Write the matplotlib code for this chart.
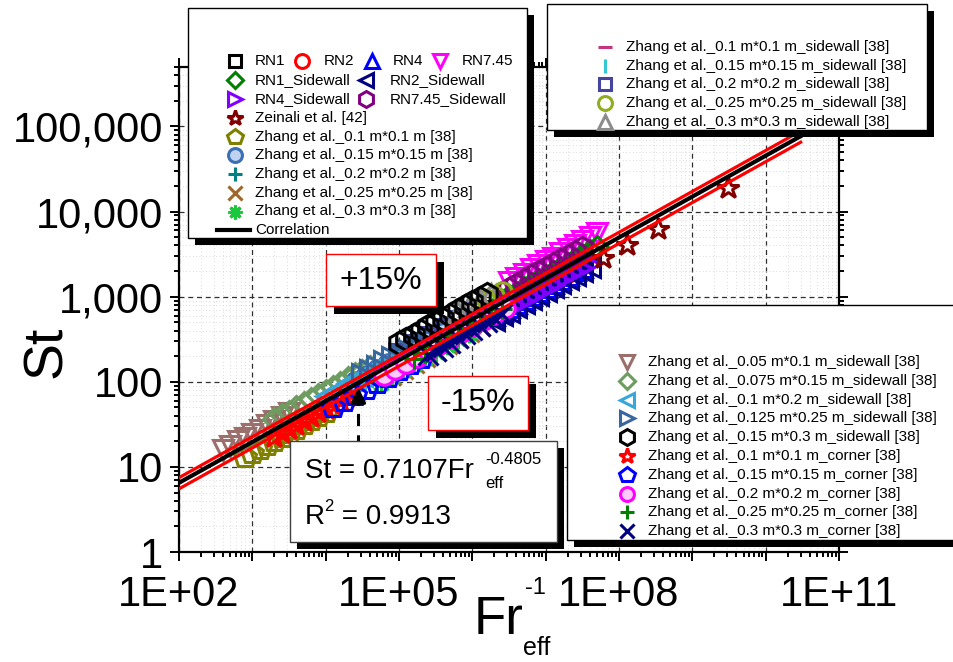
import matplotlib
matplotlib.use("Agg")
import numpy as np
import matplotlib.pyplot as plt
from matplotlib.lines import Line2D
from matplotlib.patches import Rectangle
from matplotlib.ticker import FixedLocator, LogLocator, FuncFormatter, NullFormatter

plt.rcParams["font.family"] = ["Liberation Sans", "DejaVu Sans"]
plt.rcParams["mathtext.fontset"] = "custom"
plt.rcParams["mathtext.rm"] = "Liberation Sans"

W, H = 954, 662

# ---------------------------------------------------------------------------
# data (Fr_eff^-1, St)
# ---------------------------------------------------------------------------
rn1_x = [2.0e6, 2.51e6, 3.16e6, 3.98e6, 5.01e6, 6.31e6, 7.94e6, 1.0e7, 1.26e7, 1.58e7, 2.0e7, 2.51e7, 3.16e7]
rn1_y = [708, 794, 881, 977, 1100, 1230, 1380, 1530, 1700, 1910, 2140, 2400, 2660]
rn2_x = [2.0e6, 2.51e6, 3.16e6, 3.98e6, 5.01e6, 6.31e6, 7.94e6, 1.0e7, 1.26e7, 1.58e7, 2.0e7, 2.51e7, 3.16e7]
rn2_y = [646, 724, 804, 902, 1000, 1120, 1260, 1400, 1550, 1740, 1950, 2190, 2430]
rn4_x = [2.0e6, 2.51e6, 3.16e6, 3.98e6, 5.01e6, 6.31e6, 7.94e6, 1.0e7, 1.26e7, 1.58e7, 2.0e7, 2.51e7, 3.16e7]
rn4_y = [603, 676, 750, 841, 933, 1050, 1160, 1300, 1460, 1620, 1820, 2040, 2260]
rn745_x = [3.16e6, 3.98e6, 5.01e6, 6.31e6, 7.94e6, 1.0e7, 1.26e7, 1.58e7, 2.0e7, 2.51e7, 3.16e7, 3.98e7, 5.01e7]
rn745_y = [1500, 1660, 1860, 2090, 2340, 2600, 2880, 3240, 3630, 4070, 4520, 5010, 5620]
rn1_sw_x = [2.51e6, 3.16e6, 3.98e6, 5.01e6, 6.31e6, 7.94e6, 1.0e7, 1.26e7, 1.58e7, 2.0e7, 2.51e7, 3.16e7, 3.98e7, 5.01e7]
rn1_sw_y = [902, 1010, 1120, 1260, 1410, 1570, 1760, 1970, 2190, 2450, 2750, 3060, 3430, 3800]
rn2_sw_x = [2.0e6, 2.51e6, 3.16e6, 3.98e6, 5.01e6, 6.31e6, 7.94e6, 1.0e7, 1.26e7, 1.58e7, 2.0e7, 2.51e7, 3.16e7, 3.98e7]
rn2_sw_y = [537, 603, 668, 750, 832, 933, 1040, 1160, 1300, 1450, 1620, 1820, 2020, 2260]
rn4_sw_x = [2.51e6, 3.16e6, 3.98e6, 5.01e6, 6.31e6, 7.94e6, 1.0e7, 1.26e7, 1.58e7, 2.0e7, 2.51e7, 3.16e7, 3.98e7]
rn4_sw_y = [646, 716, 794, 891, 1000, 1110, 1240, 1380, 1550, 1740, 1950, 2160, 2430]
rn745_sw_x = [3.16e6, 3.98e6, 5.01e6, 6.31e6, 7.94e6, 1.0e7, 1.26e7, 1.58e7, 2.0e7, 2.51e7, 3.16e7]
rn745_sw_y = [1240, 1380, 1550, 1740, 1950, 2160, 2400, 2690, 3020, 3390, 3760]

zeinali_x = [6.0e7, 1.29e8, 3.39e8, 3.09e9]
zeinali_y = [2820, 4070, 6170, 19100]

zh010_x = [794, 1000, 1260, 1580, 2000, 2510, 3160, 3980, 5010, 6310, 7940, 1.0e4]
zh010_y = [13.0, 14.5, 16.2, 18.2, 20.4, 22.6, 25.1, 28.2, 31.6, 35.5, 39.8, 44.2]
zh015_x = [2.51e4, 3.55e4, 5.01e4, 7.08e4, 1.0e5, 1.41e5, 2.0e5, 2.82e5, 3.98e5]
zh015_y = [100, 117, 138, 162, 193, 229, 269, 316, 372]
zh020_x = [5.0e4, 7.1e4, 1.0e5, 1.41e5, 2.0e5, 2.82e5, 3.98e5, 5.62e5, 7.94e5]
zh020_y = [102, 120, 141, 170, 200, 234, 275, 327, 389]
zh025_x = [7.9e4, 1.12e5, 1.58e5, 2.24e5, 3.16e5, 4.47e5, 6.3e5, 8.9e5, 1.26e6]
zh025_y = [120, 141, 166, 195, 232, 275, 324, 380, 447]
zh030_x = [5.62e4, 7.94e4, 1.12e5, 1.58e5, 2.24e5, 3.16e5, 4.47e5, 6.31e5, 8.91e5]
zh030_y = [97.7, 117, 138, 162, 191, 226, 269, 316, 372]

zh010_sw_x = [1.0e4, 1.58e4, 2.51e4, 3.98e4, 6.31e4, 1.0e5]
zh010_sw_y = [66.1, 83.2, 105, 129, 162, 200]
zh015_sw_x = [3.16e4, 5.01e4, 7.94e4, 1.26e5, 2.0e5, 3.16e5]
zh015_sw_y = [102, 129, 162, 200, 251, 316]
zh020_sw_x = [1.0e5, 1.58e5, 2.51e5, 3.98e5, 6.31e5, 1.0e6]
zh020_sw_y = [224, 282, 355, 437, 550, 684]
zh025_sw_x = [1.58e6, 2.0e6, 2.51e6]
zh025_sw_y = [912, 1020, 1150]
zh030_sw_x = [6.3e5, 8.9e5, 1.26e6, 1.78e6]
zh030_sw_y = [661, 776, 912, 1070]

zh005x01_sw_x = [398, 501, 631, 794, 1000, 1260, 1580, 2000, 2510, 3160]
zh005x01_sw_y = [15.8, 17.8, 20.0, 22.1, 24.5, 27.5, 30.9, 34.7, 38.9, 42.7]
zh0075x015_sw_x = [2000, 2510, 3160, 3980, 5010, 6310, 7940, 1.0e4, 1.26e4, 1.58e4, 2.0e4, 2.51e4, 3.16e4, 3.98e4]
zh0075x015_sw_y = [36.3, 40.7, 44.7, 50.1, 56.2, 63.1, 70.8, 77.6, 87.1, 97.7, 110, 123, 135, 151]
zh01x02_sw_x = [1.0e4, 1.26e4, 1.58e4, 2.0e4, 2.51e4, 3.16e4, 3.98e4, 5.01e4, 6.31e4, 7.94e4]
zh01x02_sw_y = [67.6, 75.9, 85.1, 95.5, 107, 117, 132, 148, 166, 186]
zh0125x025_sw_x = [3.16e4, 3.98e4, 5.01e4, 6.31e4, 7.94e4, 1.0e5, 1.26e5, 1.58e5, 2.0e5, 2.51e5]
zh0125x025_sw_y = [123, 138, 155, 174, 195, 214, 240, 269, 302, 339]
zh015x03_sw_x = [1.0e5, 1.26e5, 1.58e5, 2.0e5, 2.51e5, 3.16e5, 3.98e5, 5.01e5, 6.31e5, 7.94e5, 1.0e6, 1.26e6, 1.58e6]
zh015x03_sw_y = [282, 316, 355, 398, 447, 495, 550, 617, 692, 776, 861, 955, 1070]
zh010_cn_x = [2000, 2510, 3160, 3980, 5010, 6310, 7940, 1.0e4, 1.26e4, 1.58e4, 2.0e4]
zh010_cn_y = [22.4, 25.1, 27.9, 30.9, 34.7, 38.9, 43.7, 48.4, 53.7, 60.3, 67.6]
zh015_cn_x = [1.26e4, 1.78e4, 2.51e4, 3.55e4, 5.01e4, 7.08e4, 1.0e5, 1.41e5, 2.0e5]
zh015_cn_y = [50.1, 59.6, 70.0, 83.2, 97.7, 115, 136, 160, 191]
zh020_cn_x = [6.3e4, 8.9e4, 1.26e5, 1.78e5, 2.5e5, 3.55e5, 5.0e5, 7.1e5, 1.0e6, 1.41e6, 2.0e6, 2.82e6]
zh020_cn_y = [120, 141, 166, 197, 234, 275, 324, 380, 452, 537, 631, 741]
zh025_cn_x = [1.58e5, 2.24e5, 3.16e5, 4.47e5, 6.31e5, 8.91e5, 1.26e6, 1.78e6, 2.51e6]
zh025_cn_y = [186, 219, 260, 309, 363, 427, 501, 596, 708]
zh030_cn_x = [2.5e5, 3.2e5, 4.0e5, 5.0e5, 6.3e5, 7.9e5, 1.0e6, 1.26e6, 1.58e6, 2.0e6, 2.5e6]
zh030_cn_y = [209, 232, 257, 288, 324, 363, 403, 447, 501, 562, 631]

# correlation St = 0.7107 Fr_eff^-0.4805 (x axis is Fr_eff^-1), +/-15 % band
corr_coef = 0.7107
corr_exp = 0.4805
corr_band = 0.15
corr_range = [1e2, 3e10]
r2_value = 0.9913

# marker, colour, label (legend order)
legend_a = [
    ("s", "#000000", "RN1", rn1_x, rn1_y),
    ("o", "#FF0000", "RN2", rn2_x, rn2_y),
    ("^", "#0000FF", "RN4", rn4_x, rn4_y),
    ("v", "#FF00FF", "RN7.45", rn745_x, rn745_y),
    ("D", "#008000", "RN1_Sidewall", rn1_sw_x, rn1_sw_y),
    ("<", "#000080", "RN2_Sidewall", rn2_sw_x, rn2_sw_y),
    (">", "#8000FF", "RN4_Sidewall", rn4_sw_x, rn4_sw_y),
    ("h", "#800080", "RN7.45_Sidewall", rn745_sw_x, rn745_sw_y),
    ("*", "#800000", "Zeinali et al. [42]", zeinali_x, zeinali_y),
    ("p", "#808000", "Zhang et al._0.1 m*0.1 m [38]", zh010_x, zh010_y),
    ("o", "#3A6EB5", "Zhang et al._0.15 m*0.15 m [38]", zh015_x, zh015_y),
    ("+", "#008080", "Zhang et al._0.2 m*0.2 m [38]", zh020_x, zh020_y),
    ("x", "#A0662A", "Zhang et al._0.25 m*0.25 m [38]", zh025_x, zh025_y),
    ((8, 2, 0), "#1AC83C", "Zhang et al._0.3 m*0.3 m [38]", zh030_x, zh030_y),
]
legend_b = [
    ("_", "#C4357F", "Zhang et al._0.1 m*0.1 m_sidewall [38]", zh010_sw_x, zh010_sw_y),
    ("|", "#35C6D6", "Zhang et al._0.15 m*0.15 m_sidewall [38]", zh015_sw_x, zh015_sw_y),
    ("s", "#4545A0", "Zhang et al._0.2 m*0.2 m_sidewall [38]", zh020_sw_x, zh020_sw_y),
    ("o", "#90AD20", "Zhang et al._0.25 m*0.25 m_sidewall [38]", zh025_sw_x, zh025_sw_y),
    ("^", "#8C8C8C", "Zhang et al._0.3 m*0.3 m_sidewall [38]", zh030_sw_x, zh030_sw_y),
]
legend_c = [
    ("v", "#9B6F6B", "Zhang et al._0.05 m*0.1 m_sidewall [38]", zh005x01_sw_x, zh005x01_sw_y),
    ("D", "#6E9B60", "Zhang et al._0.075 m*0.15 m_sidewall [38]", zh0075x015_sw_x, zh0075x015_sw_y),
    ("<", "#37A6DA", "Zhang et al._0.1 m*0.2 m_sidewall [38]", zh01x02_sw_x, zh01x02_sw_y),
    (">", "#3867A0", "Zhang et al._0.125 m*0.25 m_sidewall [38]", zh0125x025_sw_x, zh0125x025_sw_y),
    ("h", "#000000", "Zhang et al._0.15 m*0.3 m_sidewall [38]", zh015x03_sw_x, zh015x03_sw_y),
    ("*", "#FF0000", "Zhang et al._0.1 m*0.1 m_corner [38]", zh010_cn_x, zh010_cn_y),
    ("p", "#0000FF", "Zhang et al._0.15 m*0.15 m_corner [38]", zh015_cn_x, zh015_cn_y),
    ("o", "#FF00FF", "Zhang et al._0.2 m*0.2 m_corner [38]", zh020_cn_x, zh020_cn_y),
    ("+", "#008000", "Zhang et al._0.25 m*0.25 m_corner [38]", zh025_cn_x, zh025_cn_y),
    ("x", "#000080", "Zhang et al._0.3 m*0.3 m_corner [38]", zh030_cn_x, zh030_cn_y),
]
SHADED = {"Zhang et al._0.15 m*0.15 m [38]": "#BFD3F0", "Zhang et al._0.2 m*0.2 m_corner [38]": "#FFC8FF"}


def fx(px):
    return px / W


def fy(py):
    return 1 - py / H


def marker_style(mk, color, label, ms):
    face = SHADED.get(label, "none")
    size = ms
    if mk in ("*", "p", "h"):
        size = ms * 1.15
    if mk in ("s", "D"):
        size = ms * 0.8
    return dict(marker=mk, mec=color, mfc=face, ms=size, mew=2.2, linestyle="none", color=color)


def panel(x0, y0, x1, y1, edge="black", shadow=7):
    fig.add_artist(Rectangle((fx(x0 + shadow), fy(y1 + shadow)), (x1 - x0) / W, (y1 - y0) / H,
                             transform=fig.transFigure, facecolor="black", edgecolor="none", zorder=5))
    fig.add_artist(Rectangle((fx(x0), fy(y1)), (x1 - x0) / W, (y1 - y0) / H,
                             transform=fig.transFigure, facecolor="white", edgecolor=edge, lw=1.0, zorder=6))


def entry(mx, tx, py, item, fs=11):
    mk, color, label = item[0], item[1], item[2]
    st = marker_style(mk, color, label, 10)
    fig.add_artist(Line2D([fx(mx)], [fy(py)], transform=fig.transFigure, zorder=7, **st))
    fig.text(fx(tx), fy(py), label, fontsize=fs, va="center", ha="left", zorder=8)


fig = plt.figure(figsize=(W / 100, H / 100), dpi=100)
ax = fig.add_axes([fx(179), fy(552), (839 - 179) / W, (552 - 67) / H])
ax.set_xscale("log")
ax.set_yscale("log")
ax.set_xlim(1e2, 1e11)
ax.set_ylim(1, 5e5)

# data points
for group in (legend_a, legend_b, legend_c):
    for mk, color, label, xs, ys in group:
        ax.plot(xs, ys, zorder=3, **marker_style(mk, color, label, 14))

# correlation and band
xc = np.logspace(np.log10(corr_range[0]), np.log10(corr_range[1]), 50)
yc = corr_coef * xc ** corr_exp
ax.plot(xc, yc * (1 + corr_band), color="red", lw=2.3, zorder=4)
ax.plot(xc, yc * (1 - corr_band), color="red", lw=2.3, zorder=4)
ax.plot(xc, yc, color="black", lw=3.0, zorder=5)

# arrow from equation box to the line
arrow_x = 2.8e4
ax.plot([arrow_x, arrow_x], [17, 52], color="black", lw=2.2, ls=(0, (4, 3)), zorder=6)
ax.annotate("", xy=(arrow_x, 92), xytext=(arrow_x, 50),
            arrowprops=dict(arrowstyle="-|>", color="black", lw=2.2, mutation_scale=22), zorder=6)

# axes styling
for s in ax.spines.values():
    s.set_linewidth(1.6)
ax.xaxis.set_major_locator(FixedLocator([10.0 ** e for e in range(2, 12)]))
ax.xaxis.set_minor_locator(LogLocator(base=10, subs=np.arange(2, 10), numticks=30))
ax.xaxis.set_major_formatter(FuncFormatter(
    lambda v, p: "1E+%02d" % round(np.log10(v)) if round(np.log10(v)) in (2, 5, 8, 11) else ""))
ax.xaxis.set_minor_formatter(NullFormatter())
ax.yaxis.set_major_locator(FixedLocator([10.0 ** e for e in range(0, 6)]))
ax.yaxis.set_minor_locator(LogLocator(base=10, subs=np.arange(2, 10), numticks=30))
ax.yaxis.set_major_formatter(FuncFormatter(lambda v, p: f"{v:,.0f}"))
ax.yaxis.set_minor_formatter(NullFormatter())
ax.tick_params(which="both", direction="out", top=True, right=True, width=1.4)
ax.tick_params(which="major", length=6.5, labelsize=30)
ax.tick_params(which="minor", length=3.6)
ax.tick_params(axis="x", which="major", pad=10)
ax.tick_params(axis="y", which="major", pad=5)
ax.grid(which="major", color="#303030", lw=0.9, ls=(0, (4, 3)), zorder=0)
ax.grid(which="minor", color="#D0D0D0", lw=0.6, ls=(0, (1, 3)), zorder=0)
ax.set_axisbelow(True)

# axis titles
fig.text(fx(47), fy(352), "St", rotation=90, fontsize=40, ha="center", va="center")
fig.text(fx(474), fy(634), "Fr", fontsize=38, ha="left", va="baseline")
fig.text(fx(525), fy(594), "-1", fontsize=17, ha="left", va="baseline")
fig.text(fx(523), fy(655), "eff", fontsize=18, ha="left", va="baseline")

# legend A (top left)
panel(188, 8, 527, 238)
row_a = [61, 80, 99]
entry(235, 255, row_a[0], legend_a[0])
entry(302, 324, row_a[0], legend_a[1])
entry(372, 393, row_a[0], legend_a[2])
entry(440, 462, row_a[0], legend_a[3])
entry(235, 255, row_a[1], legend_a[4])
entry(366, 390, row_a[1], legend_a[5])
entry(235, 255, row_a[2], legend_a[6])
entry(366, 390, row_a[2], legend_a[7])
for i, item in enumerate(legend_a[8:]):
    entry(235, 255, 118 + i * 18.7, item)
corr_py = 230
fig.add_artist(Line2D([fx(217), fx(250)], [fy(corr_py), fy(corr_py)], transform=fig.transFigure,
                      color="black", lw=3.0, zorder=7))
fig.text(fx(255), fy(corr_py), "Correlation", fontsize=11, va="center", ha="left", zorder=8)

# legend B (top right)
panel(547, 4, 927, 130)
for i, item in enumerate(legend_b):
    entry(605, 626, 47 + i * 18.7, item)

# legend C (bottom right)
panel(567, 305, 962, 540)
for i, item in enumerate(legend_c):
    entry(627, 648, 362 + i * 18.8, item)

# band labels
panel(326, 254, 436, 306, edge="red", shadow=8)
fig.text(fx(381), fy(281), "+15%", fontsize=23, ha="center", va="center", zorder=8)
panel(428, 376, 528, 430, edge="red", shadow=8)
fig.text(fx(478), fy(403), "-15%", fontsize=23, ha="center", va="center", zorder=8)

# equation box
panel(290, 441, 557, 542, edge="#404040", shadow=7)
fig.text(fx(305), fy(478), f"St = {corr_coef}Fr", fontsize=20, ha="left", va="baseline", zorder=8)
fig.text(fx(485), fy(464), f"-{corr_exp}", fontsize=12, ha="left", va="baseline", zorder=8)
fig.text(fx(485), fy(488), "eff", fontsize=12, ha="left", va="baseline", zorder=8)
fig.text(fx(305), fy(524), "R", fontsize=20, ha="left", va="baseline", zorder=8)
fig.text(fx(324), fy(511), "2", fontsize=12, ha="left", va="baseline", zorder=8)
fig.text(fx(334), fy(524), f" = {r2_value}", fontsize=20, ha="left", va="baseline", zorder=8)

fig.savefig("out.png", dpi=100)
